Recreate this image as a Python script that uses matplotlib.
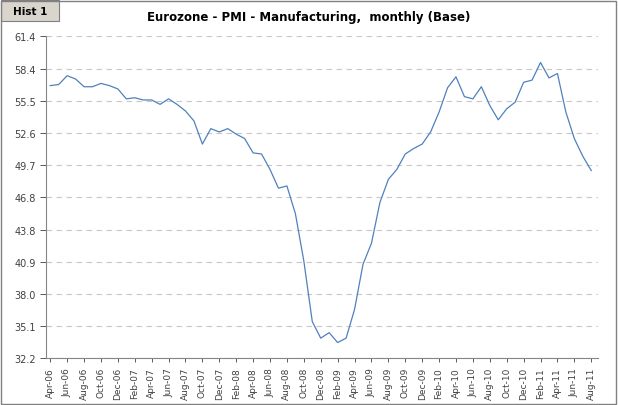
import numpy as np
import matplotlib.pyplot as plt
from matplotlib.patches import Rectangle

months = ["Jan", "Feb", "Mar", "Apr", "May", "Jun", "Jul", "Aug", "Sep", "Oct", "Nov", "Dec"]
labels = []
for yr in range(6, 12):
    for m in months:
        labels.append(f"{m}-{yr:02d}")
labels = labels[3:3 + 65]  # Apr-06 .. Aug-11

pmi = [56.9, 57.0, 57.8, 57.5, 56.8, 56.8, 57.1, 56.9, 56.6,
       55.7, 55.8, 55.6, 55.6, 55.2, 55.7, 55.2, 54.6, 53.7, 51.6, 53.0, 52.7,
       53.0, 52.5, 52.1, 50.8, 50.7, 49.3, 47.6, 47.8, 45.3, 41.0, 35.5, 34.0,
       34.5, 33.6, 34.0, 36.6, 40.7, 42.6, 46.3, 48.4, 49.3, 50.7, 51.2, 51.6,
       52.7, 54.5, 56.7, 57.7, 55.9, 55.7, 56.8, 55.1, 53.8, 54.8, 55.4, 57.2,
       57.4, 59.0, 57.6, 58.0, 54.5, 52.1, 50.5, 49.2]
yticks = [32.2, 35.1, 38.0, 40.9, 43.8, 46.8, 49.7, 52.6, 55.5, 58.4, 61.4]

fig = plt.figure(figsize=(6.18, 4.06), dpi=100)
ax = fig.add_axes([46 / 618, 1 - 359 / 406, 552 / 618, 322 / 406])
x = np.arange(len(pmi))
ax.plot(x, pmi, color="#4f81bd", lw=0.9)
ax.set_xlim(-0.5, len(pmi) - 0.2)
ax.set_ylim(32.2, 61.4)
ax.set_yticks(yticks)
ax.set_yticklabels([f"{v:.1f}" for v in yticks], fontsize=7)
ax.set_xticks(x[::2])
ax.set_xticklabels(labels[::2], rotation=90, fontsize=6.5)
ax.grid(axis="y", ls=(0, (5, 4)), color="#c8c8c8", lw=0.8)
for s in ["top", "right"]:
    ax.spines[s].set_visible(False)
ax.spines["left"].set_color("#868686")
ax.spines["bottom"].set_color("#868686")
ax.tick_params(colors="#404040", length=3, width=0.6)
ax.tick_params(axis="y", length=4)

fig.text(0.5, 1 - 17 / 406, "Eurozone - PMI - Manufacturing,  monthly (Base)",
         ha="center", va="center", fontsize=8.5, fontweight="bold")
fig.patches.append(Rectangle((1 / 618, 1 - 22 / 406), 58 / 618, 21 / 406,
                             transform=fig.transFigure, facecolor="#d9d5cc",
                             edgecolor="#808080", lw=0.8))
fig.text(30 / 618, 1 - 12 / 406, "Hist 1", ha="center", va="center",
         fontsize=7.5, fontweight="bold")
fig.patches.append(Rectangle((1 / 618, 1 / 406), 615 / 618, 403 / 406,
                             transform=fig.transFigure, fill=False,
                             edgecolor="#808080", lw=1))
fig.savefig("out.png", dpi=100)
